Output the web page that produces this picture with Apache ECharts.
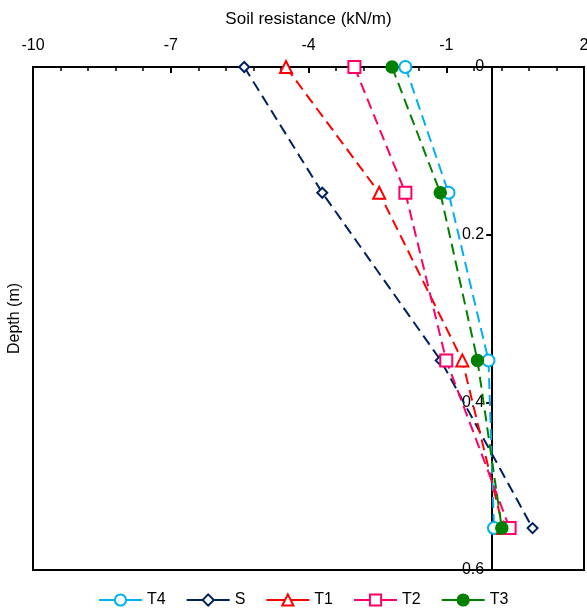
<!DOCTYPE html>
<html>
<head>
<meta charset="utf-8">
<script src="https://cdn.jsdelivr.net/npm/echarts@6/dist/echarts.min.js"></script>
<style>
  html, body { margin: 0; padding: 0; background: #fff; }
  #chart { width: 587px; height: 614px; }
</style>
</head>
<body>
<div id="chart"></div>
<script>
// profundidades (m) y resistencia del suelo (kN/m) por ensayo
const depths = [0, 0.15, 0.35, 0.55];
const seriesNames = ['T4', 'S', 'T1', 'T2', 'T3'];
const valuesT4 = [-1.89, -0.95, -0.08, 0.04];
const valuesS = [-5.40, -3.70, -1.12, 0.88];
const valuesT1 = [-4.49, -2.46, -0.65, 0.24];
const valuesT2 = [-3.00, -1.89, -1.00, 0.38];
const valuesT3 = [-2.18, -1.13, -0.32, 0.21];
const xTicks = [-10, -7, -4, -1, 2];
const yTicks = [0, 0.2, 0.4, 0.6];

document.addEventListener('DOMContentLoaded', function() {
    const chart = echarts.init(document.getElementById('chart'));
    const font = 'Liberation Sans, Arial, sans-serif';

    // Posición del eje vertical en x = 0 (en píxeles desde el borde izquierdo de la rejilla)
    const gridLeft = 33, gridRight = 3, gridWidth = 587 - gridLeft - gridRight;
    const xMin = xTicks[0], xMax = xTicks[xTicks.length - 1];
    const zeroOffset = gridWidth * (0 - xMin) / (xMax - xMin);

    function makeSeries(name, values, color, symbol) {
        return {
            name: name,
            type: 'line',
            data: values.map((v, i) => [v, depths[i]]),
            symbol: symbol,
            symbolSize: symbol === 'emptyDiamond' ? 10 : 12,
            showSymbol: true,
            lineStyle: { color: color, width: 2, type: [11, 6] },
            itemStyle: { color: color, borderColor: color, borderWidth: 1.5 }
        };
    }

    const option = {
        animation: false,
        textStyle: { fontFamily: font },
        grid: {
            left: gridLeft, right: gridRight, top: 67, bottom: 44,
            outerBoundsMode: 'none',
            show: true, borderColor: '#000', borderWidth: 2
        },
        legend: {
            bottom: 1,
            left: 93,
            itemWidth: 43,
            itemHeight: 14,
            itemGap: 20,
            textStyle: { fontSize: 16, color: '#000', fontFamily: font },
            lineStyle: { type: [100, 0] },
            data: seriesNames
        },
        xAxis: {
            type: 'value',
            position: 'top',
            min: xMin,
            max: xMax,
            interval: 3,
            name: 'Soil resistance (kN/m)',
            nameLocation: 'middle',
            nameGap: 39,
            nameTextStyle: { fontSize: 17, color: '#000', fontFamily: font },
            axisLine: { onZero: false, lineStyle: { color: '#000', width: 2 } },
            axisTick: { inside: true, length: 6, lineStyle: { color: '#000', width: 2 } },
            minorTick: { show: true, splitNumber: 5, length: 4, lineStyle: { color: '#000', width: 1.5 } },
            axisLabel: { fontSize: 16, color: '#000', margin: 13 },
            splitLine: { show: false }
        },
        yAxis: [{
            type: 'value',
            inverse: true,
            position: 'left',
            offset: -zeroOffset,
            min: yTicks[0],
            max: yTicks[yTicks.length - 1],
            interval: 0.2,
            axisLine: { onZero: false, lineStyle: { color: '#000', width: 2 } },
            axisTick: { length: 6, lineStyle: { color: '#000', width: 2 } },
            axisLabel: { fontSize: 16, color: '#000', margin: 8 },
            splitLine: { show: false }
        }, {
            type: 'value',
            inverse: true,
            position: 'left',
            min: yTicks[0],
            max: yTicks[yTicks.length - 1],
            name: 'Depth (m)',
            nameLocation: 'middle',
            nameGap: 10,
            nameTextStyle: { fontSize: 16, color: '#000', fontFamily: font },
            axisLine: { show: false, onZero: false },
            axisTick: { show: false },
            axisLabel: { show: false },
            splitLine: { show: false }
        }],
        series: [
            makeSeries('T4', valuesT4, '#00B0F0', 'emptyCircle'),
            makeSeries('S', valuesS, '#002060', 'emptyDiamond'),
            makeSeries('T1', valuesT1, '#FF0000', 'emptyTriangle'),
            makeSeries('T2', valuesT2, '#FF0066', 'emptyRect'),
            makeSeries('T3', valuesT3, '#008000', 'circle')
        ]
    };

    chart.setOption(option);
});
</script>
</body>
</html>
